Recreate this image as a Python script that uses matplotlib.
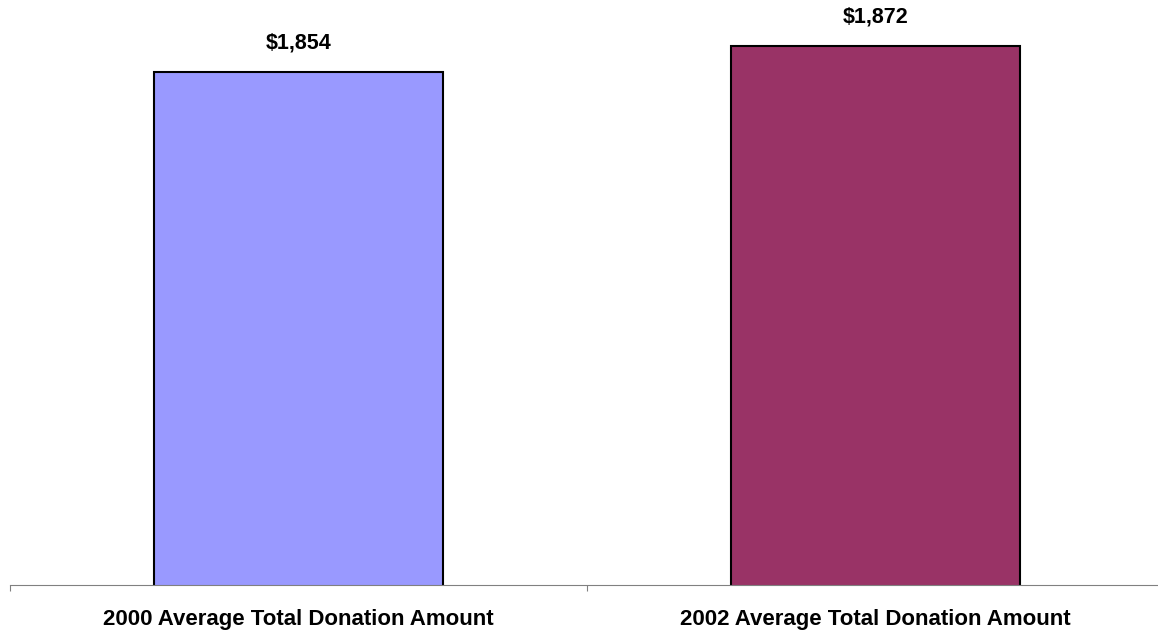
import matplotlib
matplotlib.use("Agg")
import matplotlib.pyplot as plt

categories = ["2000 Average Total Donation Amount", "2002 Average Total Donation Amount"]
values = [1854, 1872]
colors = ["#9999FF", "#993366"]

plt.rcParams['font.family'] = ['Liberation Sans', 'DejaVu Sans']

fig = plt.figure(figsize=(11.58, 6.31), dpi=100)
ax = fig.add_axes([10 / 1158, 46 / 631, 1154 / 1158, 580 / 631])

x = list(range(len(values)))
bars = ax.bar(x, values, width=0.5, color=colors, edgecolor="black", linewidth=1.5)

for b, v in zip(bars, values):
    ax.annotate(f"${v:,}", (b.get_x() + b.get_width() / 2, v),
                xytext=(0, 13), textcoords="offset points",
                ha="center", va="bottom", fontsize=15.5, fontweight="bold")

ax.set_xlim(-0.5, len(values) - 0.5)
ax.set_ylim(1500, 1900)

# boundary ticks (marks only) and centered labels
ax.set_xticks([i - 0.5 for i in range(len(values) + 1)])
ax.set_xticklabels([])
ax.set_xticks(x, minor=True)
ax.set_xticklabels(categories, minor=True, fontsize=16, fontweight="bold")
ax.tick_params(axis="x", which="major", direction="out", length=4, color="#808080")
ax.tick_params(axis="x", which="minor", length=0, pad=17)

ax.set_yticks([])
for s in ["top", "right", "left"]:
    ax.spines[s].set_visible(False)
ax.spines["bottom"].set_color("#808080")

fig.savefig("out.png", dpi=100)
